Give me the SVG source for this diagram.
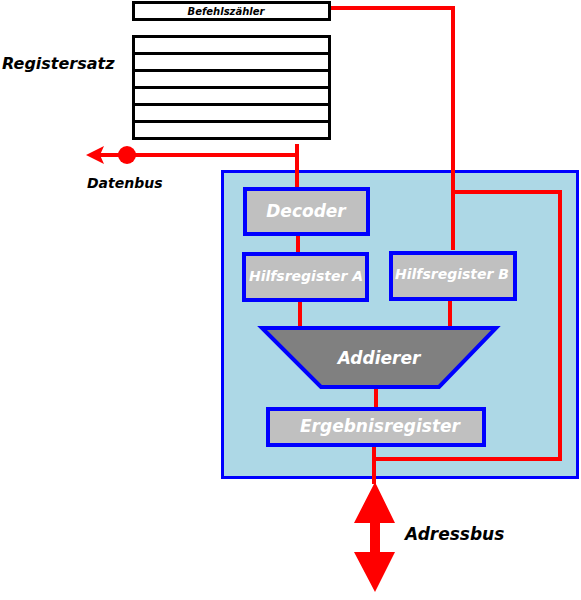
<svg xmlns="http://www.w3.org/2000/svg" width="581" height="600" viewBox="0 0 581 600">
<style>
.reg{fill:#fff;stroke:#000;stroke-width:3}
.box{fill:#C0C0C0;stroke:#0000FF;stroke-width:4}
.wire{fill:none;stroke:#FF0000;stroke-width:4}
.wt{font-family:"DejaVu Sans",Verdana,sans-serif;font-weight:bold;font-style:italic;fill:#fff;text-anchor:middle}
.bt{font-family:"DejaVu Sans",Verdana,sans-serif;font-weight:bold;font-style:italic;fill:#000}
</style>
<rect width="581" height="600" fill="#fff"/>
<g id="cpu">
<rect x="222.5" y="171.5" width="355" height="306" fill="#ADD8E6" stroke="#0000FF" stroke-width="3"/>
</g>
<g id="connectors">
<polyline class="wire" points="331,8 453,8 453,250"/>
<polyline class="wire" points="453,192 560,192 560,459 375,459"/>
<line class="wire" x1="297" y1="144" x2="297" y2="187"/>
<polyline class="wire" points="297,155 100,155"/>
<polygon points="86,155 104,146 100,155 104,164" fill="#FF0000"/>
<circle cx="127" cy="155" r="9" fill="#FF0000"/>
<line class="wire" x1="298" y1="236" x2="298" y2="252"/>
<line class="wire" x1="300" y1="302" x2="300" y2="328"/>
<line class="wire" x1="450" y1="300" x2="450" y2="328"/>
<line class="wire" x1="376" y1="389" x2="376" y2="408"/>
<line class="wire" x1="374" y1="447" x2="374" y2="484"/>
<polygon points="375,482 395,523 380,523 380,552 395,552 375,592 354,552 370,552 370,523 354,523" fill="#FF0000"/>
</g>
<g id="befehlszaehler">
<rect class="reg" x="133.5" y="2.5" width="196" height="17"/>
<text x="226" y="15" font-family="'DejaVu Sans',Verdana,sans-serif" font-style="italic" font-weight="bold" font-size="10" text-anchor="middle" fill="#000">Befehlszähler</text>
</g>
<g id="registersatz">
<rect class="reg" x="133.5" y="36.5" width="196" height="17"/>
<rect class="reg" x="133.5" y="53.5" width="196" height="17"/>
<rect class="reg" x="133.5" y="70.5" width="196" height="17"/>
<rect class="reg" x="133.5" y="87.5" width="196" height="17"/>
<rect class="reg" x="133.5" y="104.5" width="196" height="17"/>
<rect class="reg" x="133.5" y="121.5" width="196" height="17"/>
<text class="bt" x="2" y="69" font-size="16">Registersatz</text>
</g>
<g id="datenbus">
<text class="bt" x="87" y="188" font-size="14">Datenbus</text>
</g>
<g id="decoder">
<rect class="box" x="245" y="189" width="123" height="45"/>
<text class="wt" x="306" y="217" font-size="17">Decoder</text>
</g>
<g id="hilfsregisterA">
<rect class="box" x="244" y="254" width="123" height="46"/>
<text class="wt" x="306" y="281" font-size="14">Hilfsregister A</text>
</g>
<g id="hilfsregisterB">
<rect class="box" x="391" y="253" width="124" height="46"/>
<text class="wt" x="452" y="279" font-size="14">Hilfsregister B</text>
</g>
<g id="addierer">
<polygon points="262,328 496,328 439,387 321,387" fill="#808080" stroke="#0000FF" stroke-width="4"/>
<text class="wt" x="379" y="364" font-size="17">Addierer</text>
</g>
<g id="ergebnisregister">
<rect class="box" x="268" y="409" width="216" height="36"/>
<text class="wt" x="380" y="432" font-size="17">Ergebnisregister</text>
</g>
<g id="adressbus">
<text class="bt" x="405" y="540" font-size="17">Adressbus</text>
</g>
</svg>
